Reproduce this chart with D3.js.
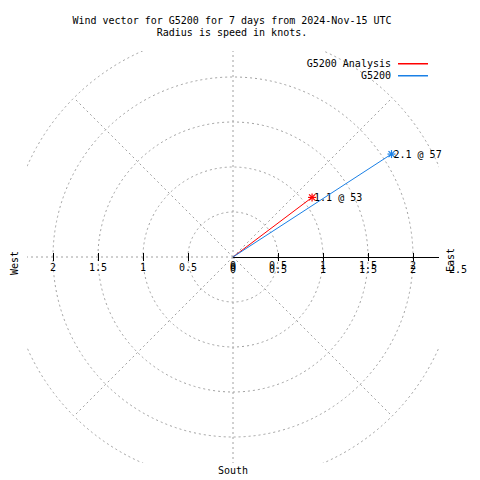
<!DOCTYPE html>
<html>
<head>
<meta charset="utf-8">
<script src="https://cdn.jsdelivr.net/npm/d3@7"></script>
<style>
body{margin:0;background:#fff;}
svg{display:block;}
text{font-family:"DejaVu Sans Mono","Liberation Mono",monospace;font-size:10px;fill:#000;}
</style>
</head>
<body>
<svg id="chart" width="480" height="480"></svg>
<script>
// ---- data ----
const titleLines = ["Wind vector for G5200 for 7 days from 2024-Nov-15 UTC", "Radius is speed in knots."];
const seriesNames = ["G5200 Analysis", "G5200"];
const speeds = [1.1, 2.1];        // knots
const directions = [53, 57];      // degrees clockwise from north
const seriesColors = ["#ff0000", "#1a80e6"];
const gridRadii = [0.5, 1, 1.5, 2, 2.5];
const gridAngles = [0, 45, 90, 135, 180, 225, 270, 315];
const westTicks = [0, 0.5, 1, 1.5, 2];
const eastTicksA = [0, 0.5, 1, 1.5, 2];
const eastTicksB = [0, 0.5, 1, 1.5, 2, 2.5];
const compass = ["West", "East", "South"];

// ---- layout ----
const svg = d3.select("#chart");
const cx = 233, cy = 257, half = 206;
const r = d3.scaleLinear().domain([0, 2.5]).range([0, 225]);
const px = (rv, deg) => cx + r(rv) * Math.sin(deg * Math.PI / 180);
const py = (rv, deg) => cy - r(rv) * Math.cos(deg * Math.PI / 180);

svg.append("rect").attr("width", 480).attr("height", 480).attr("fill", "#fff");
svg.append("clipPath").attr("id", "box").append("rect")
  .attr("x", cx - half).attr("y", cy - half).attr("width", 2 * half).attr("height", 2 * half);

// title
svg.selectAll("text.title").data(titleLines).join("text")
  .attr("class", "title").attr("x", 232).attr("y", (d, i) => 24 + i * 12)
  .attr("text-anchor", "middle").text(d => d);

// grid
const grid = svg.append("g").attr("clip-path", "url(#box)")
  .attr("fill", "none").attr("stroke", "#a0a0a0").attr("stroke-width", 1)
  .attr("stroke-dasharray", "2,3");
grid.selectAll("circle").data(gridRadii).join("circle")
  .attr("cx", cx).attr("cy", cy).attr("r", d => r(d));
grid.selectAll("line").data(gridAngles.filter(a => a !== 90)).join("line")
  .attr("x1", cx).attr("y1", cy)
  .attr("x2", d => px(2.5, d)).attr("y2", d => py(2.5, d));

// east axis (solid)
svg.append("line").attr("x1", cx).attr("y1", cy + 0.5).attr("x2", cx + half).attr("y2", cy + 0.5)
  .attr("stroke", "#000").attr("stroke-width", 1);

// tick marks
const tickVals = [0.5, 1, 1.5, 2];
svg.append("g").selectAll("line").data(tickVals.flatMap(v => [v, -v])).join("line")
  .attr("x1", d => cx + Math.sign(d) * r(Math.abs(d)) + 0.5)
  .attr("x2", d => cx + Math.sign(d) * r(Math.abs(d)) + 0.5)
  .attr("y1", cy - 4).attr("y2", cy + 4)
  .attr("stroke", "#000").attr("stroke-width", 1);

// tick labels
svg.append("g").selectAll("text").data(westTicks).join("text")
  .attr("x", d => cx - r(d)).attr("y", cy + 14).attr("text-anchor", "middle").text(d => d);
svg.append("g").selectAll("text").data(eastTicksA).join("text")
  .attr("x", d => cx + r(d)).attr("y", cy + 12).attr("text-anchor", "middle").text(d => d);
svg.append("g").selectAll("text").data(eastTicksB).join("text")
  .attr("x", d => cx + r(d)).attr("y", cy + 16).attr("text-anchor", "middle").text(d => d);

// compass labels
svg.append("text").attr("transform", `translate(18,${cy + 6}) rotate(-90)`)
  .attr("text-anchor", "middle").text(compass[0]);
svg.append("text").attr("transform", `translate(454,${cy + 3}) rotate(-90)`)
  .attr("text-anchor", "middle").text(compass[1]);
svg.append("text").attr("x", cx).attr("y", 474).attr("text-anchor", "middle").text(compass[2]);

// vectors
const vec = svg.append("g");
speeds.forEach((s, i) => {
  const x = px(s, directions[i]), y = py(s, directions[i]);
  vec.append("line").attr("x1", cx).attr("y1", cy).attr("x2", x).attr("y2", y)
    .attr("stroke", seriesColors[i]).attr("stroke-width", 1);
  const m = 4;
  [[-m, 0, m, 0], [0, -m, 0, m], [-m + 1, -m + 1, m - 1, m - 1], [-m + 1, m - 1, m - 1, -m + 1]].forEach(d => {
    vec.append("line").attr("x1", x + d[0]).attr("y1", y + d[1]).attr("x2", x + d[2]).attr("y2", y + d[3])
      .attr("stroke", seriesColors[i]).attr("stroke-width", 1.2);
  });
  vec.append("text").attr("x", x + 2).attr("y", y + 4).text(`${s} @ ${directions[i]}`);
});

// legend
const lg = svg.append("g");
seriesNames.forEach((n, i) => {
  const y = 63 + i * 12;
  lg.append("text").attr("x", 391).attr("y", y + 4).attr("text-anchor", "end").text(n);
  lg.append("rect").attr("x", 398).attr("width", 30).attr("y", y).attr("height", 1.5)
    .attr("fill", seriesColors[i]);
});
</script>
</body>
</html>
